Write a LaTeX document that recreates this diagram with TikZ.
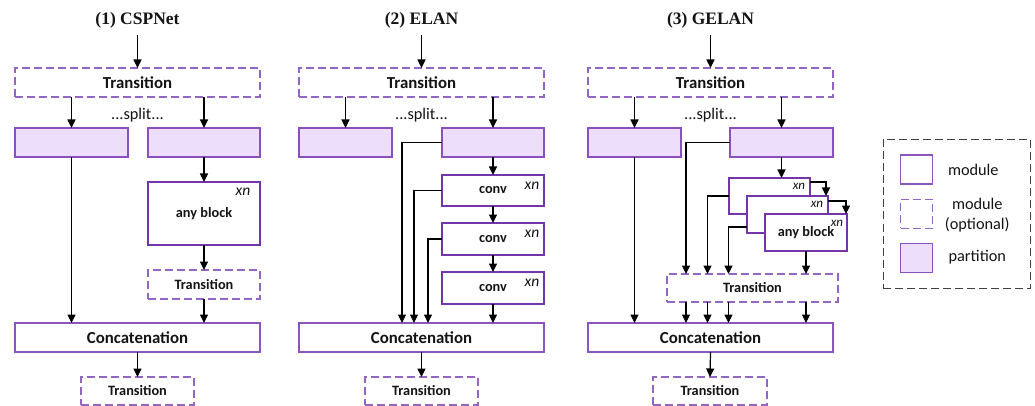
\documentclass[tikz,border=0pt]{standalone}
\usepackage{fontspec}
\setmainfont{Carlito}
\newfontfamily\titlefont{Liberation Serif}
\usetikzlibrary{arrows.meta,calc}
\definecolor{modc}{HTML}{7535AA}
\definecolor{thinc}{HTML}{8A55BD}
\definecolor{optc}{HTML}{9466C4}
\definecolor{partc}{HTML}{8A50BF}
\definecolor{partfill}{HTML}{EDDFFB}
\definecolor{legc}{HTML}{404040}
\definecolor{txt}{HTML}{141414}
\tikzset{
  base/.style={rectangle, inner sep=0pt, outer sep=0pt, align=center, text=txt},
  thickmod/.style={base, draw=modc, line width=2pt, fill=white},
  module/.style={base, draw=thinc, line width=1.3pt, fill=white},
  optmod/.style={base, draw=optc, line width=1.3pt, dash pattern=on 8pt off 4pt, fill=white},
  partition/.style={base, draw=partc, line width=1.3pt, fill=partfill},
  conn/.style={line width=1.2pt, draw=black, -{Triangle[length=8.5pt,width=8pt]}},
  big/.style={font=\fontsize{16.8}{19}\selectfont\bfseries},
  small/.style={font=\fontsize{14.3}{17}\selectfont\bfseries},
  xnl/.style={font=\fontsize{15.5}{17}\selectfont\itshape, inner sep=0pt, text=txt},
  xns/.style={font=\fontsize{13}{15}\selectfont\itshape, inner sep=0pt, text=txt},
  splitt/.style={font=\fontsize{16.3}{19}\selectfont, inner sep=0pt, text=txt},
  ttl/.style={font=\titlefont\bfseries\fontsize{17.5}{20}\selectfont, inner sep=0pt, text=txt},
  legtxt/.style={font=\fontsize{16.3}{20}\selectfont, inner sep=0pt, align=center, text=txt},
}
\begin{document}
\begin{tikzpicture}[x=1pt,y=-1pt]
\useasboundingbox (0,0) rectangle (1035,406);

%% ---------------- Panel 1: CSPNet ----------------
\node[ttl] (ttl1) at (137.5,20) {(1) CSPNet};
\coordinate (in1) at (137.5,35);
\node[optmod, minimum width=245pt, minimum height=29pt, big] (t1) at (137.5,82.5) {Transition};
\node[splitt] (s1) at (137.5,115) {...split...};
\node[partition, minimum width=113pt, minimum height=29pt] (p1a) at (71.5,142.5) {};
\node[partition, minimum width=112pt, minimum height=29pt] (p1b) at (204,142.5) {};
\node[thickmod, minimum width=112pt, minimum height=63pt, small] (ab1) at (204,213.5) {any block};
\node[xnl] (xn1) at ($(ab1.north east)+(-17,10)$) {xn};
\node[optmod, minimum width=112pt, minimum height=29pt, small] (t1b) at (204,284.5) {Transition};
\node[module, minimum width=245pt, minimum height=29pt, big] (c1) at (137.5,337.5) {Concatenation};
\node[optmod, minimum width=113pt, minimum height=28pt, small] (t1c) at (137.5,391) {Transition};

\draw[conn] (in1) -- (t1.north);
\draw[conn] (t1.south -| p1a.north) -- (p1a.north);
\draw[conn] (t1.south -| p1b.north) -- (p1b.north);
\draw[conn] (p1a.south) -- (p1a.south |- c1.north);
\draw[conn] (p1b.south) -- (ab1.north);
\draw[conn] (ab1.south) -- (t1b.north);
\draw[conn] (t1b.south) -- (t1b.south |- c1.north);
\draw[conn] (c1.south) -- (t1c.north);

%% ---------------- Panel 2: ELAN ----------------
\node[ttl] (ttl2) at (421.5,20) {(2) ELAN};
\coordinate (in2) at (421.5,35);
\node[optmod, minimum width=245pt, minimum height=29pt, big] (t2) at (421.5,82.5) {Transition};
\node[splitt] (s2) at (421.5,115) {...split...};
\node[partition, minimum width=93pt, minimum height=29pt] (p2a) at (345.5,142.5) {};
\node[partition, minimum width=102pt, minimum height=29pt] (p2b) at (493,142.5) {};
\node[thickmod, minimum width=102pt, minimum height=31pt, small] (cv1) at (493,190.5) {conv};
\node[thickmod, minimum width=102pt, minimum height=32pt, small] (cv2) at (493,239) {conv};
\node[thickmod, minimum width=102pt, minimum height=32pt, small] (cv3) at (493,288) {conv};
\node[xnl] (xn2a) at ($(cv1.north east)+(-12,11)$) {xn};
\node[xnl] (xn2b) at ($(cv2.north east)+(-12,11)$) {xn};
\node[xnl] (xn2c) at ($(cv3.north east)+(-12,11)$) {xn};
\node[module, minimum width=245pt, minimum height=29pt, big] (c2) at (421.5,337.5) {Concatenation};
\node[optmod, minimum width=113pt, minimum height=28pt, small] (t2c) at (421.5,391) {Transition};
\coordinate (e1) at (402,0);
\coordinate (e2) at (414,0);
\coordinate (e3) at (428,0);

\draw[conn] (in2) -- (t2.north);
\draw[conn] (t2.south -| p2a.north) -- (p2a.north);
\draw[conn] (t2.south -| p2b.north) -- (p2b.north);
\draw[conn] (p2b.south) -- (cv1.north);
\draw[conn] (cv1.south) -- (cv2.north);
\draw[conn] (cv2.south) -- (cv3.north);
\draw[conn] (cv3.south) -- (cv3.south |- c2.north);
\draw[conn] (p2b.west) -| (e1 |- c2.north);
\draw[conn] (cv1.west) -| (e2 |- c2.north);
\draw[conn] (cv2.west) -| (e3 |- c2.north);
\draw[conn] (c2.south) -- (t2c.north);

%% ---------------- Panel 3: GELAN ----------------
\node[ttl] (ttl3) at (710.5,20) {(3) GELAN};
\coordinate (in3) at (710.5,35);
\node[optmod, minimum width=245pt, minimum height=29pt, big] (t3) at (710.5,82.5) {Transition};
\node[splitt] (s3) at (710.5,115) {...split...};
\node[partition, minimum width=93pt, minimum height=29pt] (p3a) at (634.5,142.5) {};
\node[partition, minimum width=103pt, minimum height=29pt] (p3b) at (781.5,142.5) {};
\node[thickmod, minimum width=81pt, minimum height=36pt] (b1) at (769.5,196) {};
\node[xns] (xn3a) at ($(b1.north east)+(-11,8)$) {xn};
\node[thickmod, minimum width=81pt, minimum height=37pt] (b2) at (787.5,214.5) {};
\node[xns] (xn3b) at ($(b2.north east)+(-11,8)$) {xn};
\node[thickmod, minimum width=82pt, minimum height=37pt, small] (b3) at (806,232.5) {any block};
\node[xns] (xn3c) at ($(b3.north east)+(-10,9)$) {xn};
\node[optmod, minimum width=171pt, minimum height=28pt, small] (t3b) at (752.5,288) {Transition};
\node[module, minimum width=245pt, minimum height=29pt, big] (c3) at (710.5,337.5) {Concatenation};
\node[optmod, minimum width=114pt, minimum height=28pt, small] (t3c) at (710,391) {Transition};
\coordinate (g1) at (686,0);
\coordinate (g2) at (707.5,0);
\coordinate (g3) at (728.5,0);

\draw[conn] (in3) -- (t3.north);
\draw[conn] (t3.south -| p3a.north) -- (p3a.north);
\draw[conn] (t3.south -| p3b.north) -- (p3b.north);
\draw[conn] (p3a.south) -- (p3a.south |- c3.north);
\draw[conn] (p3b.south) -- (p3b.south |- b1.north);
\draw[conn] ($(b1.north east)+(0,4)$) -| ($(b2.north east)+(-2,0)$);
\draw[conn] ($(b2.north east)+(0,5)$) -| ($(b3.north east)+(-1,0)$);
\draw[conn] (p3b.west) -| (g1 |- t3b.north);
\draw[conn] (b1.west) -| (g2 |- t3b.north);
\draw[conn] ($(b2.south west)+(0,-6)$) -| (g3 |- t3b.north);
\draw[conn] (b3.south) -- (b3.south |- t3b.north);
\draw[conn] (t3b.south -| g1) -- (g1 |- c3.north);
\draw[conn] (t3b.south -| g2) -- (g2 |- c3.north);
\draw[conn] (t3b.south -| g3) -- (g3 |- c3.north);
\draw[conn] (t3b.south -| b3.south) -- (b3.south |- c3.north);
\draw[conn] (c3.south) -- (t3c.north);

%% ---------------- Legend ----------------
\node[draw=legc, line width=1.1pt, dash pattern=on 8pt off 4pt, rectangle, inner sep=0pt,
      minimum width=147.4pt, minimum height=149pt] (leg) at (957,213.8) {};
\node[module, minimum width=31.5pt, minimum height=29pt] (lm) at (916.5,169.5) {};
\node[optmod, minimum width=31.5pt, minimum height=29pt] (lo) at (916.5,213.8) {};
\node[partition, minimum width=31.5pt, minimum height=29pt] (lp) at (916.5,257.8) {};
\node[legtxt] (lmt) at (973.3,170) {module};
\node[legtxt] (lot) at (977.3,215) {module\\(optional)};
\node[legtxt] (lpt) at (977.3,257) {partition};
\end{tikzpicture}
\end{document}
